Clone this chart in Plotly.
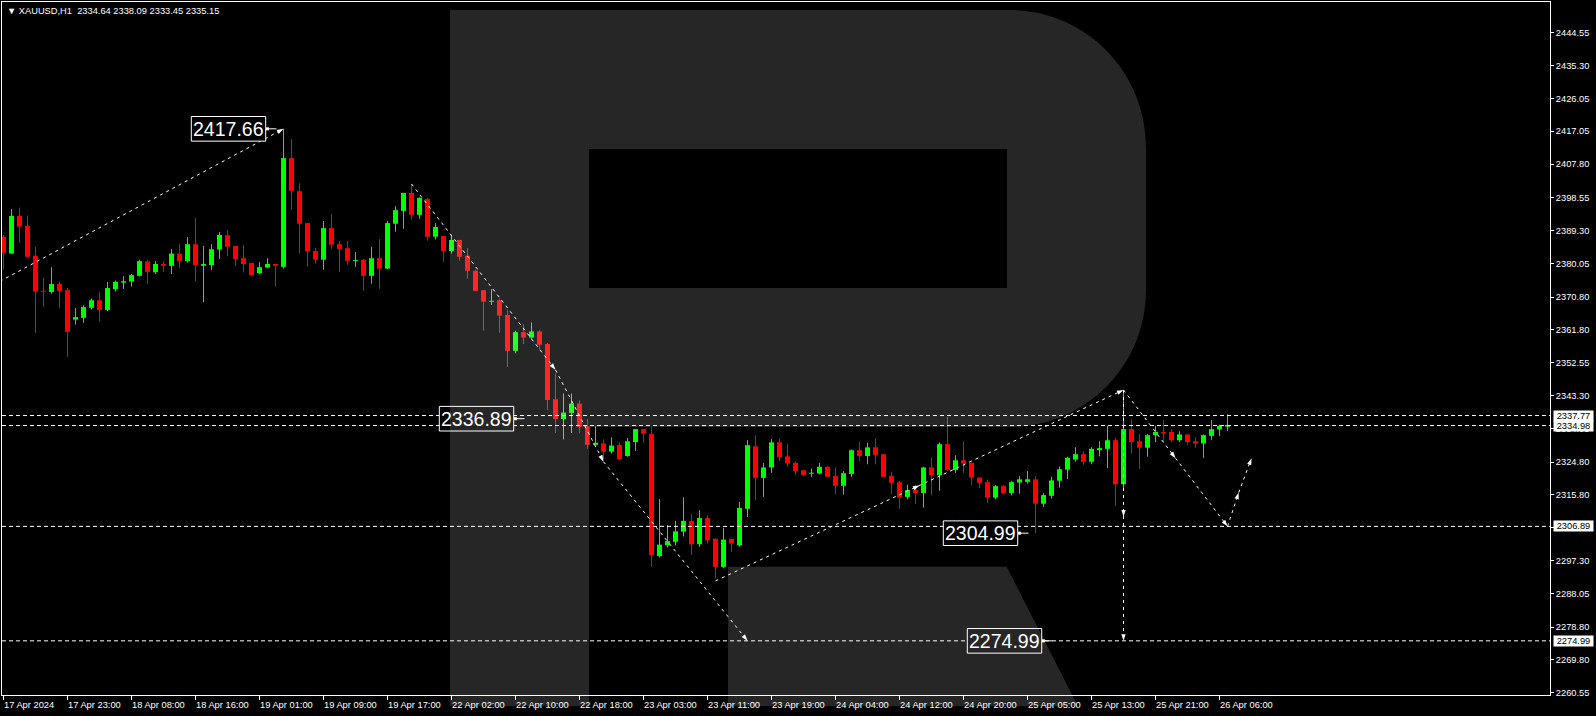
import plotly.graph_objects as go

# ---------------- data ----------------
symbol_header = "▼ XAUUSD,H1  2334.64 2338.09 2333.45 2335.15"

opens = [2387.6, 2382.9, 2393.4, 2390.6, 2382.3, 2372.5, 2372.2, 2374.4, 2372.7, 2364.5,
         2365.0, 2367.8, 2369.9, 2367.2, 2373.0, 2374.8, 2375.1, 2376.7, 2380.7, 2377.7,
         2380.0, 2379.5, 2382.9, 2380.8, 2385.5, 2379.5, 2379.7, 2384.0, 2388.0, 2385.0,
         2381.6, 2380.3, 2377.4, 2379.0, 2380.0, 2379.2, 2409.5, 2400.3, 2391.4, 2383.6,
         2381.2, 2390.0, 2385.5, 2384.4, 2380.9, 2381.1, 2376.7, 2381.6, 2378.7, 2391.2,
         2394.8, 2399.8, 2393.7, 2398.1, 2387.6, 2387.8, 2383.6, 2386.7, 2382.3, 2378.1,
         2372.7, 2369.5, 2369.9, 2365.8, 2355.8, 2361.0, 2359.5, 2361.2, 2357.7, 2342.3,
         2336.8, 2338.5, 2341.1, 2334.8, 2329.6, 2330.0, 2327.7, 2329.6, 2326.5, 2330.4,
         2334.0, 2332.6, 2298.6, 2301.6, 2302.6, 2305.4, 2308.4, 2301.9, 2309.2, 2303.4,
         2295.6, 2303.4, 2301.6, 2311.8, 2329.2, 2320.4, 2323.3, 2330.3, 2326.4, 2324.6,
         2322.5, 2321.6, 2321.6, 2323.5, 2320.9, 2318.2, 2321.5, 2328.1, 2326.5, 2328.9,
         2327.0, 2320.9, 2319.2, 2315.1, 2317.0, 2316.2, 2323.3, 2321.2, 2329.8, 2322.6,
         2325.3, 2324.6, 2320.5, 2319.2, 2314.9, 2318.1, 2316.2, 2319.1, 2319.3, 2320.0,
         2313.2, 2315.4, 2319.6, 2322.7, 2325.5, 2327.0, 2324.9, 2328.1, 2328.5, 2330.9,
         2318.6, 2334.0, 2330.6, 2328.8, 2332.3, 2333.2, 2333.2, 2330.9, 2332.5, 2330.6,
         2330.0, 2332.1, 2333.9, 2334.64]
highs = [2388.1, 2395.3, 2395.7, 2393.5, 2384.8, 2376.1, 2379.1, 2375.1, 2373.3, 2367.7,
         2368.5, 2370.4, 2372.2, 2375.0, 2375.4, 2376.6, 2377.2, 2381.2, 2381.1, 2380.8,
         2380.8, 2384.2, 2385.5, 2387.5, 2392.8, 2385.0, 2385.5, 2388.9, 2389.5, 2385.0,
         2385.3, 2380.3, 2380.5, 2381.6, 2380.0, 2417.66, 2414.8, 2402.5, 2391.4, 2384.5,
         2392.0, 2393.9, 2386.4, 2386.4, 2383.3, 2381.4, 2384.8, 2386.9, 2392.0, 2396.1,
         2399.8, 2402.3, 2398.6, 2398.4, 2391.4, 2387.8, 2387.8, 2386.7, 2384.4, 2378.4,
         2372.7, 2373.0, 2370.4, 2367.2, 2361.4, 2363.2, 2363.7, 2361.6, 2358.0, 2349.5,
         2343.9, 2343.9, 2342.0, 2336.8, 2334.8, 2331.1, 2331.7, 2330.3, 2331.5, 2334.0,
         2334.0, 2334.6, 2314.5, 2307.2, 2308.4, 2315.0, 2310.3, 2311.4, 2310.0, 2303.6,
         2306.5, 2303.4, 2313.7, 2330.9, 2332.3, 2324.6, 2331.2, 2331.4, 2329.8, 2325.0,
         2322.7, 2323.0, 2324.6, 2323.6, 2323.3, 2322.3, 2328.3, 2330.4, 2330.2, 2331.4,
         2327.0, 2322.1, 2319.6, 2318.5, 2318.5, 2323.5, 2326.1, 2330.3, 2337.4, 2326.7,
         2330.6, 2324.6, 2320.5, 2319.9, 2318.4, 2318.4, 2319.5, 2320.9, 2322.3, 2320.9,
         2316.2, 2320.7, 2323.6, 2326.3, 2328.9, 2327.9, 2328.9, 2330.6, 2334.9, 2331.6,
         2344.8, 2336.7, 2332.6, 2332.6, 2334.9, 2336.5, 2334.0, 2333.4, 2332.5, 2331.7,
         2332.5, 2336.5, 2335.2, 2338.09]
lows = [2378.5, 2382.8, 2385.9, 2381.9, 2360.8, 2368.1, 2371.7, 2367.8, 2354.1, 2363.1,
        2363.6, 2367.3, 2363.9, 2366.8, 2372.3, 2373.0, 2373.7, 2376.5, 2374.5, 2377.2,
        2377.8, 2377.2, 2378.9, 2380.4, 2375.2, 2369.4, 2378.3, 2381.4, 2382.2, 2379.5,
        2377.7, 2376.7, 2377.2, 2378.8, 2373.7, 2378.7, 2395.1, 2382.9, 2379.2, 2380.1,
        2378.4, 2384.2, 2377.8, 2379.8, 2379.2, 2372.5, 2374.5, 2373.1, 2378.6, 2389.0,
        2389.8, 2392.3, 2392.6, 2386.5, 2386.8, 2380.6, 2382.9, 2380.9, 2375.9, 2372.5,
        2361.4, 2368.6, 2360.8, 2351.3, 2355.1, 2357.7, 2359.1, 2356.0, 2339.3, 2332.9,
        2331.1, 2332.9, 2332.8, 2328.5, 2329.6, 2325.5, 2327.2, 2325.5, 2326.3, 2327.9,
        2330.2, 2295.6, 2298.2, 2301.0, 2301.6, 2304.1, 2298.9, 2301.2, 2302.1, 2292.4,
        2295.3, 2299.8, 2301.2, 2309.5, 2314.2, 2315.1, 2321.8, 2325.1, 2323.5, 2321.2,
        2321.0, 2320.7, 2321.4, 2320.7, 2315.9, 2315.7, 2320.7, 2325.1, 2324.2, 2324.2,
        2320.5, 2315.9, 2311.8, 2314.4, 2313.2, 2312.1, 2315.5, 2316.8, 2322.3, 2321.8,
        2321.8, 2318.4, 2317.6, 2313.4, 2314.4, 2315.8, 2315.5, 2316.0, 2318.8, 2304.99,
        2312.3, 2314.6, 2317.7, 2320.1, 2324.9, 2324.1, 2324.2, 2326.4, 2323.1, 2312.5,
        2317.1, 2327.2, 2322.9, 2326.3, 2330.4, 2330.4, 2330.4, 2330.4, 2329.5, 2328.8,
        2326.0, 2330.9, 2332.1, 2333.45]
closes = [2383.1, 2393.4, 2390.4, 2382.0, 2372.3, 2372.3, 2374.4, 2372.5, 2361.1, 2365.2,
          2368.0, 2369.9, 2367.2, 2373.3, 2375.0, 2375.2, 2376.9, 2380.8, 2377.8, 2380.0,
          2379.5, 2382.9, 2380.8, 2385.5, 2379.7, 2380.0, 2384.1, 2388.1, 2384.8, 2381.4,
          2380.0, 2376.9, 2379.1, 2380.0, 2379.5, 2409.5, 2400.4, 2391.2, 2383.5, 2381.2,
          2390.0, 2385.4, 2384.2, 2380.9, 2381.1, 2376.7, 2381.6, 2378.7, 2391.4, 2395.0,
          2399.8, 2393.7, 2398.4, 2387.6, 2390.3, 2383.6, 2386.7, 2382.0, 2378.1, 2372.5,
          2369.5, 2369.7, 2365.6, 2355.8, 2361.0, 2359.5, 2361.2, 2357.5, 2342.1, 2336.8,
          2338.6, 2341.1, 2334.6, 2329.6, 2330.2, 2327.7, 2329.4, 2325.6, 2330.6, 2334.0,
          2332.7, 2298.9, 2301.8, 2302.8, 2305.5, 2308.4, 2301.9, 2309.2, 2303.0, 2295.6,
          2303.2, 2302.1, 2312.0, 2329.5, 2320.4, 2323.3, 2330.3, 2326.2, 2324.4, 2322.3,
          2321.2, 2321.8, 2323.5, 2320.7, 2318.2, 2321.7, 2328.1, 2326.5, 2328.9, 2326.8,
          2320.7, 2319.0, 2314.9, 2317.0, 2316.2, 2323.3, 2321.2, 2329.8, 2322.6, 2325.3,
          2324.4, 2320.5, 2319.0, 2314.9, 2318.1, 2316.2, 2319.2, 2320.0, 2320.0, 2313.2,
          2315.6, 2319.7, 2322.8, 2326.0, 2327.0, 2324.9, 2328.5, 2328.7, 2330.9, 2318.6,
          2334.0, 2330.4, 2328.8, 2332.3, 2333.2, 2332.8, 2330.9, 2332.5, 2330.4, 2330.0,
          2332.3, 2334.0, 2334.9, 2335.15]

time_tick_index = [0, 8, 16, 24, 32, 40, 48, 56, 64, 72, 80, 88, 96, 104, 112, 120, 128, 136, 144, 152]
time_tick_labels = ["17 Apr 2024", "17 Apr 23:00", "18 Apr 08:00", "18 Apr 16:00", "19 Apr 01:00",
                    "19 Apr 09:00", "19 Apr 17:00", "22 Apr 02:00", "22 Apr 10:00", "22 Apr 18:00",
                    "23 Apr 03:00", "23 Apr 11:00", "23 Apr 19:00", "24 Apr 04:00", "24 Apr 12:00",
                    "24 Apr 20:00", "25 Apr 05:00", "25 Apr 13:00", "25 Apr 21:00", "26 Apr 06:00"]

price_ticks = [2444.55, 2435.30, 2426.05, 2417.05, 2407.80, 2398.55, 2389.30, 2380.05, 2370.80,
               2361.80, 2352.55, 2343.30, 2334.05, 2324.80, 2315.80, 2306.55, 2297.30, 2288.05,
               2278.80, 2269.80, 2260.55]

level_prices = [2337.77, 2334.98, 2306.89, 2274.99]

label_anchor_index = [33, 64, 127, 130]
label_prices = [2417.66, 2336.89, 2304.99, 2274.99]

path_a_x = [-2, 35]
path_a_y = [2373.3, 2417.66]
path_b_x = [51, 69, 75, 93]
path_b_y = [2402.3, 2350.5, 2324.9, 2274.99]
path_c_x = [89, 114.5, 140, 146.5, 153, 154.4, 156]
path_c_y = [2291.7, 2318.3, 2344.9, 2325.9, 2306.89, 2316.3, 2325.9]
path_d_x = [140, 140, 140]
path_d_y = [2344.9, 2309.6, 2274.99]

# ---------------- layout geometry ----------------
W, H = 1596, 716
L_PX, R_PX, T_PX, B_PX = 2, 1550, 2, 695
X_RANGE = [-0.1875, 193.31]
Y_RANGE = [2259.9, 2453.0]
PX_PER_BAR = (R_PX - L_PX) / (X_RANGE[1] - X_RANGE[0])
PRICE_PER_PX = (Y_RANGE[1] - Y_RANGE[0]) / (B_PX - T_PX)


def px_x(px):
    return (px - L_PX) / (R_PX - L_PX)


def px_y(py):
    return (B_PX - py) / (B_PX - T_PX)


FONT = "Liberation Sans, Arial, sans-serif"
GREEN = "#00ff00"
RED = "#ff0000"

n = len(opens)
idx = list(range(n))

fig = go.Figure()

# candle bodies
bases, heights, colors = [], [], []
min_h = 1.0 * PRICE_PER_PX
for o, c in zip(opens, closes):
    lo, hi = min(o, c), max(o, c)
    if hi - lo < min_h:
        mid = (o + c) / 2
        lo, hi = mid - min_h / 2, mid + min_h / 2
    bases.append(lo)
    heights.append(hi - lo)
    colors.append(GREEN if c >= o else RED)

# wicks
for col in (GREEN, RED):
    wx, wy = [], []
    for i in idx:
        if colors[i] == col:
            wx += [i, i, None]
            wy += [lows[i], highs[i], None]
    fig.add_trace(go.Scatter(x=wx, y=wy, mode="lines", line=dict(color=col, width=1),
                             hoverinfo="skip"))

fig.add_trace(go.Bar(x=idx, y=heights, base=bases, width=5 / PX_PER_BAR,
                     marker=dict(color=colors, line=dict(width=0)), hoverinfo="skip"))

# forecast paths
for px_, py_ in ((path_a_x, path_a_y), (path_b_x, path_b_y), (path_c_x, path_c_y), (path_d_x, path_d_y)):
    fig.add_trace(go.Scatter(
        x=px_, y=py_, mode="lines+markers",
        line=dict(color="white", width=1, dash="3px,4px"),
        marker=dict(symbol="arrow", size=7, color="white", angleref="previous",
                    line=dict(width=0)),
        hoverinfo="skip"))

# price label connectors (dot + short line)
for a, p in zip(label_anchor_index, label_prices):
    fig.add_trace(go.Scatter(x=[a, a + 9 / PX_PER_BAR], y=[p, p], mode="lines",
                             line=dict(color="white", width=1), hoverinfo="skip"))
    fig.add_trace(go.Scatter(x=[a], y=[p], mode="markers",
                             marker=dict(symbol="square", size=3, color="white"),
                             hoverinfo="skip"))

shapes = []
# horizontal levels
for lp in level_prices:
    shapes.append(dict(type="line", xref="paper", x0=0, x1=1, yref="y", y0=lp, y1=lp,
                       line=dict(color="white", width=1, dash="4px,3px"), layer="above"))

# price label boxes
box_w = 74.4 / PX_PER_BAR
box_gap = 1.8 / PX_PER_BAR
box_hh = 12.3 * PRICE_PER_PX
annotations = []
for a, p in zip(label_anchor_index, label_prices):
    x1 = a - box_gap
    x0 = x1 - box_w
    shapes.append(dict(type="rect", xref="x", yref="y", x0=x0, x1=x1, y0=p - box_hh, y1=p + box_hh,
                       fillcolor="black", line=dict(color="white", width=1), layer="above"))
    annotations.append(dict(x=(x0 + x1) / 2, y=p, xref="x", yref="y", text=f"{p:.2f}",
                            showarrow=False, font=dict(family=FONT, size=19.5, color="white"),
                            xanchor="center", yanchor="middle"))


# watermark "R"
def P(x, y):
    return f"{px_x(x):.5f},{px_y(y):.5f}"


r_path = ("M" + P(450, 10) + " L" + P(1010, 10) +
          " C" + P(1085.1, 10) + " " + P(1146, 71.3) + " " + P(1146, 147) +
          " L" + P(1146, 290) +
          " C" + P(1146, 365.7) + " " + P(1085.1, 427) + " " + P(1010, 427) +
          " L" + P(589, 427) + " L" + P(589, 706) + " L" + P(450, 706) + " Z" +
          " M" + P(589, 149) + " L" + P(589, 288) + " L" + P(1007, 288) + " L" + P(1007, 149) + " Z")
leg_path = ("M" + P(728, 566.7) + " L" + P(1006.7, 566.7) + " L" + P(1077.8, 706) +
            " L" + P(728, 706) + " Z")
for pth in (r_path, leg_path):
    shapes.append(dict(type="path", xref="paper", yref="paper", path=pth,
                       fillcolor="rgba(255,255,255,0.15)", line=dict(width=0), layer="above"))

# right-side level tags
for lp in level_prices:
    annotations.append(dict(x=px_x(1553), y=lp, xref="paper", yref="y", text=f"{lp:.2f}",
                            showarrow=False, xanchor="left", yanchor="middle",
                            font=dict(family=FONT, size=9.3, color="black"),
                            bgcolor="white", width=39, height=10, borderpad=0))

# bottom time labels (left-aligned at tick)
for ti, tl in zip(time_tick_index, time_tick_labels):
    annotations.append(dict(x=ti, y=px_y(704.7), xref="x", yref="paper", text=tl,
                            showarrow=False, xanchor="left", yanchor="middle", xshift=-2,
                            font=dict(family=FONT, size=9.3, color="white")))

# header
annotations.append(dict(x=px_x(5), y=px_y(11), xref="paper", yref="paper", text=symbol_header,
                        showarrow=False, xanchor="left", yanchor="middle",
                        font=dict(family=FONT, size=9.3, color="white")))

fig.update_layout(
    width=W, height=H,
    margin=dict(l=L_PX, r=W - R_PX, t=T_PX, b=H - B_PX, pad=0, autoexpand=False),
    paper_bgcolor="black", plot_bgcolor="black",
    showlegend=False, hovermode=False, barmode="overlay",
    shapes=shapes, annotations=annotations,
    xaxis=dict(range=X_RANGE, showgrid=False, zeroline=False, showline=True, mirror=True,
               linecolor="white", linewidth=1, ticks="outside", ticklen=4, tickcolor="white",
               tickvals=time_tick_index, showticklabels=False, automargin=False, fixedrange=True),
    yaxis=dict(range=Y_RANGE, side="right", showgrid=False, zeroline=False, showline=True,
               mirror=True, linecolor="white", linewidth=1, ticks="outside", ticklen=3,
               tickcolor="white", tickvals=price_ticks, ticktext=[f"{v:.2f}" for v in price_ticks],
               tickfont=dict(family=FONT, size=9.3, color="white"), automargin=False,
               fixedrange=True),
)

fig.write_html(
    "out.html",
    config={"displayModeBar": False, "staticPlot": True},
    post_script="document.body.style.margin='0';document.body.style.background='black';",
)
